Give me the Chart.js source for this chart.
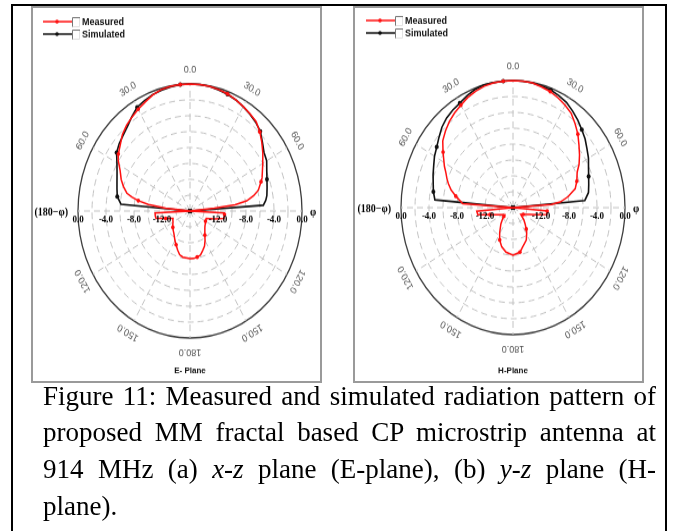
<!DOCTYPE html>
<html>
<head>
<meta charset="utf-8">
<script src="https://cdn.jsdelivr.net/npm/chart.js@4.4.1/dist/chart.umd.min.js"></script>
<style>
  html, body { margin: 0; padding: 0; background: #fff; }
  body { width: 675px; height: 531px; overflow: hidden; position: relative; }
  #frame { position: absolute; left: 11px; top: 4px; width: 656px; height: 600px; border: 2px solid #000; box-sizing: border-box; }
  .panel { position: absolute; top: 6px; width: 291px; height: 377px; border: 2px solid #9a9a9a; box-sizing: border-box; }
  canvas.polar { position: absolute; top: 8px; transform: scaleY(1.134); transform-origin: 0 0; }
  .cap { position: absolute; left: 43px; width: 613px; height: 36.67px; font-family: "Liberation Serif", "Times New Roman", serif; font-size: 27px; line-height: 36.67px; color: #000; white-space: nowrap; }
  .j { text-align: justify; text-align-last: justify; }
</style>
</head>
<body>
<div id="frame"></div>
<div class="panel" style="left:31px"></div>
<div class="panel" style="left:353px"></div>
<canvas id="cE" class="polar" width="287" height="329" style="left:33px"></canvas>
<canvas id="cH" class="polar" width="287" height="329" style="left:355px"></canvas>
<div class="cap j" style="top:377.5px">Figure 11: Measured and simulated radiation pattern of</div>
<div class="cap j" style="top:414.2px">proposed MM fractal based CP microstrip antenna at</div>
<div class="cap j" style="top:450.8px">914 MHz (a) <i>x-z</i> plane (E-plane), (b) <i>y-z</i> plane (H-</div>
<div class="cap" style="top:487.5px">plane).</div>
<script>
// ---------- data (angles in degrees from broadside, dB relative) ----------
const seriesNames = ['Measured', 'Simulated'];
const planeTitles = ['E- Plane', 'H-Plane'];
const sideLabels = ['(180\u2212\u03c6)', '\u03c6'];
const radialTickValues = [0, -4, -8, -12];
const radialTickText = ['0.0', '-4.0', '-8.0', '-12.0'];
const angleTickValues = [0, 30, 60, 120, 150, 180];
const angleTickText = ['0.0', '30.0', '60.0', '120.0', '150.0', '180.0'];

// E-plane measured
const eMeasAngles = [-180,-170,-165,-160,-155,-150,-145,-140,-135,-130,-125,-120,-115,-111,-105,-101,-97,-93,-90,-87,-84,-82,-80,-78,-76,-72,-68,-63,-58,-55,-50,-45,-40,-35,-30,-25,-20,-15,-10,-5,0,5,10,15,20,25,30,35,40,45,50,55,60,65,68,70,72,75,78,81,83,84,86,90,93,95,97,101,106,112,120,125,130,135,140,145,150,155,160,165,170,175];
const eMeasDb     = [-10.0,-10.1,-10.3,-10.8,-11.3,-11.7,-12.1,-12.4,-12.6,-12.8,-13.0,-13.2,-13.3,-13.4,-12.4,-11.05,-11.0,-11.0,-16,-16,-12.5,-10.0,-8.5,-7.5,-6.7,-6.0,-5.4,-4.8,-3.9,-3.5,-3.0,-2.35,-1.9,-1.55,-1.2,-0.85,-0.45,-0.15,-0.05,0,0,0,-0.05,-0.15,-0.3,-0.55,-0.8,-1.05,-1.3,-1.9,-2.6,-3.3,-4.0,-4.6,-4.9,-5.2,-5.5,-5.9,-6.7,-7.8,-9.5,-12.5,-16,-16,-11.1,-11.05,-11.05,-11.05,-12.4,-13.5,-13.45,-13.3,-13.2,-13.0,-12.7,-12.3,-11.7,-11.1,-10.7,-10.25,-10.1,-10.0];
// E-plane simulated
const eSimAngles = [-180,-155,-130,-105,-90,-85,-80,-75,-70,-65,-60,-55,-50,-45,-40,-35,-30,-25,-20,-15,-10,-5,0,5,10,15,20,25,30,35,40,45,50,55,60,65,70,75,80,83,86,90,95,120,145,170];
const eSimDb     = [-16,-16,-16,-16,-16,-6.1,-5.45,-5.2,-4.9,-4.5,-3.95,-3.2,-2.8,-2.5,-2.1,-1.5,-0.9,-0.65,-0.4,-0.25,-0.1,0,0,0,-0.05,-0.2,-0.35,-0.55,-0.8,-1.1,-1.4,-1.8,-2.5,-3.1,-3.35,-3.9,-4.3,-4.6,-4.85,-5.1,-5.5,-16,-16,-16,-16,-16];
// H-plane measured
const hMeasAngles = [-180,-170,-162,-155,-149,-140,-133,-130,-128,-120,-110,-105,-100,-95,-92,-88,-86,-80,-76,-72,-69,-65,-62,-55,-50,-45,-40,-35,-30,-25,-20,-15,-10,-5,0,5,10,15,20,25,30,35,40,45,50,55,60,64,70,75,80,84,86,88,92,95,100,105,110,120,128,135,140,145,148,155,164,170];
const hMeasDb     = [-10.0,-10.3,-10.8,-11.5,-12.3,-13.3,-14.0,-14.3,-14.5,-14.2,-13.4,-12.6,-10.9,-10.8,-16,-16,-8.8,-7.7,-6.9,-6.3,-5.9,-5.4,-4.9,-3.8,-2.9,-2.35,-1.85,-1.45,-1.1,-0.7,-0.4,-0.15,-0.05,0,0,0,-0.05,-0.25,-0.45,-0.75,-1.1,-1.5,-2.2,-2.9,-3.7,-4.4,-5.1,-5.8,-6.3,-6.8,-8.0,-9.2,-10.5,-16,-16,-11.1,-11.1,-12.6,-13.5,-14.3,-14.6,-13.8,-13.3,-12.7,-12.3,-11.5,-10.9,-10.3];
// H-plane simulated
const hSimAngles = [-180,-155,-130,-105,-90,-85,-80,-75,-70,-65,-60,-55,-50,-45,-40,-35,-30,-25,-20,-15,-10,-5,0,5,10,15,20,25,30,35,40,45,50,55,60,65,70,75,80,85,90,95,120,145,170];
const hSimDb     = [-16,-16,-16,-16,-16,-4.8,-4.45,-4.2,-3.85,-3.5,-3.05,-2.7,-2.2,-1.65,-1.25,-1.0,-0.8,-0.45,-0.15,0,0,0,0,0,-0.05,-0.15,-0.23,-0.45,-0.7,-1.15,-1.6,-2.1,-2.55,-3.1,-3.55,-4.1,-4.5,-4.8,-5.05,-5.7,-16,-16,-16,-16,-16];

// angular categories: one per degree, clockwise from the top
const angleCategories = Array.from({ length: 360 }, (_, i) => i);
const rMin = -16, rMax = 0, rStep = 2;
const markerStart = -180, markerStep = 25;

function toRadar(angles, db) {
  const arr = new Array(angleCategories.length).fill(null);
  angles.forEach((a, i) => { arr[(a + 360) % 360] = db[i]; });
  return arr;
}
function markerRadius(size) {
  return (c) => {
    const a = c.index > 180 ? c.index - 360 : c.index;
    return ((a - markerStart) % markerStep === 0) ? size : 0;
  };
}

const decor = {
  id: 'decor',
  afterDraw(chart, args, o) {
    const ctx = chart.ctx, s = chart.scales.r;
    const R = s.drawingArea, cx = s.xCenter, cy = s.yCenter;
    ctx.save();
    // radial (dB) labels along the horizontal axis
    ctx.font = 'bold 9px "Liberation Serif"';
    ctx.fillStyle = '#000'; ctx.textAlign = 'center'; ctx.textBaseline = 'middle';
    radialTickValues.forEach((v, i) => {
      const d = s.getDistanceFromCenterForValue(v);
      ctx.fillText(radialTickText[i], cx - d, cy + 8);
      ctx.fillText(radialTickText[i], cx + d, cy + 8);
    });
    // side labels
    ctx.font = 'bold 10px "Liberation Serif"';
    ctx.textAlign = 'right';
    ctx.fillText(sideLabels[0], cx - R - 10, cy + 1);
    ctx.textAlign = 'center';
    ctx.fillText(sideLabels[1], cx + R + 11, cy + 1);
    // angle labels (tangential)
    ctx.font = '9px "Liberation Sans"';
    ctx.fillStyle = '#555';
    angleTickValues.forEach((a, i) => {
      const sides = (a === 0 || a === 180) ? [a] : [a, -a];
      sides.forEach(sa => {
        const p = s.getPointPosition((sa + 360) % 360, R + 12);
        ctx.save();
        ctx.translate(p.x, p.y);
        ctx.rotate(sa * Math.PI / 180);
        ctx.textAlign = 'center'; ctx.textBaseline = 'middle';
        ctx.fillText(angleTickText[i], 0, 0);
        ctx.restore();
      });
    });
    // legend
    const lx = o.legendX;
    chart.data.datasets.forEach((ds, i) => {
      const y = o.legendY[i];
      ctx.strokeStyle = ds.borderColor; ctx.lineWidth = 1.5; ctx.setLineDash([]);
      ctx.beginPath(); ctx.moveTo(lx, y); ctx.lineTo(lx + 29, y); ctx.stroke();
      ctx.fillStyle = ds.borderColor;
      ctx.beginPath(); ctx.arc(lx + 14, y, 1.8, 0, Math.PI * 2); ctx.fill();
      // checkbox
      ctx.lineWidth = 1;
      ctx.strokeStyle = '#e2e2e2';
      ctx.beginPath(); ctx.moveTo(lx + 36.5, y - 4); ctx.lineTo(lx + 36.5, y + 4.5); ctx.lineTo(lx + 29, y + 4.5); ctx.stroke();
      ctx.strokeStyle = '#777';
      ctx.beginPath(); ctx.moveTo(lx + 29.5, y + 4.5); ctx.lineTo(lx + 29.5, y - 3.5); ctx.lineTo(lx + 37, y - 3.5); ctx.stroke();
      ctx.fillStyle = '#111';
      ctx.font = 'bold 9px "Liberation Sans"';
      ctx.textAlign = 'left'; ctx.textBaseline = 'middle';
      ctx.fillText(ds.label, lx + 39, y + 0.5);
    });
    // plane title
    ctx.font = 'bold 8px "Liberation Sans"';
    ctx.fillStyle = '#111'; ctx.textAlign = 'center'; ctx.textBaseline = 'middle';
    ctx.fillText(o.title, cx, o.titleY);
    ctx.restore();
  }
};

function makeChart(id, meas, sim, pad, opts) {
  return new Chart(document.getElementById(id), {
    type: 'radar',
    data: {
      labels: angleCategories,
      datasets: [
        { label: seriesNames[0], data: meas, borderColor: '#ff1010', backgroundColor: '#ff1010',
          borderWidth: 1.5, fill: false, spanGaps: true, tension: 0,
          pointRadius: markerRadius(1.8), pointBorderWidth: 0, pointBackgroundColor: '#ff1010' },
        { label: seriesNames[1], data: sim, borderColor: '#111', backgroundColor: '#111',
          borderWidth: 1.6, fill: false, spanGaps: true, tension: 0,
          pointRadius: markerRadius(2), pointBorderWidth: 0, pointBackgroundColor: '#111' }
      ]
    },
    options: {
      responsive: false, maintainAspectRatio: false, animation: false, events: [],
      devicePixelRatio: 1,
      layout: { padding: pad },
      plugins: { legend: { display: false }, tooltip: { enabled: false }, decor: opts },
      scales: {
        r: {
          min: rMin, max: rMax, startAngle: 0,
          ticks: { display: false, stepSize: rStep },
          pointLabels: { display: false },
          grid: {
            circular: true,
            color: (c) => (c.tick && c.tick.value === rMax) ? '#3c3c3c' : '#c2c2c2',
            lineWidth: (c) => (c.tick && c.tick.value === rMax) ? 1.3 : 1
          },
          border: { dash: (c) => (c.tick && c.tick.value === rMax) ? [] : [6, 4] },
          angleLines: {
            display: true,
            color: '#c2c2c2',
            lineWidth: (c) => (c.index % 30 === 0) ? 1 : 0,
            borderDash: [6, 4]
          }
        }
      }
    },
    plugins: [decor]
  });
}

makeChart('cE', toRadar(eMeasAngles, eMeasDb), toRadar(eSimAngles, eSimDb),
  { left: 45, right: 18, top: 67, bottom: 38 },
  { legendX: 10, legendY: [12, 23], title: planeTitles[0], titleY: 320 });
makeChart('cH', toRadar(hMeasAngles, hMeasDb), toRadar(hSimAngles, hSimDb),
  { left: 46, right: 17, top: 64, bottom: 41 },
  { legendX: 11, legendY: [11, 22], title: planeTitles[1], titleY: 320 });
</script>
</body>
</html>
